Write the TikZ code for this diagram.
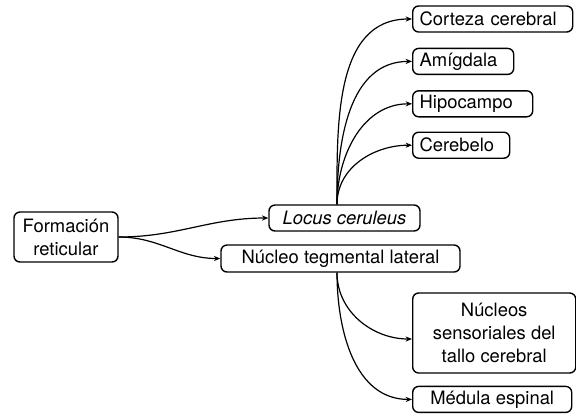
\documentclass[tikz,border=0pt]{standalone}
\usepackage{fontspec}
\setmainfont{TeX Gyre Heros}
\usetikzlibrary{arrows.meta,positioning}

\begin{document}
\begin{tikzpicture}[
    x=0.5pt, y=0.5pt,
    node distance=7.5pt,
    font=\fontsize{9.2}{11.5}\selectfont,
    box/.style={rectangle, draw, rounded corners=3pt, line width=0.7pt,
                minimum height=13pt, inner xsep=3.5pt, inner ysep=1pt},
    lbox/.style={box, align=left, text width=#1},
    cbox/.style={box, align=center, minimum width=#1},
    arrow/.style={-{Stealth[length=3.2pt, width=2.6pt]}, line width=0.6pt}
  ]
  \useasboundingbox (0,0) rectangle (576,-414);

  % --- origen ---
  \node[cbox=52pt, minimum height=25pt] (form) at (66,-237) {Formación\\reticular};

  % --- nucleos del tronco ---
  \node[cbox=75.5pt] (locus) at (344.5,-218) {\itshape Locus ceruleus};
  \node[cbox=119.5pt, minimum height=13.5pt] (teg) at (340.5,-258.5) {Núcleo tegmental lateral};

  % --- proyecciones del locus ceruleus ---
  \node[lbox=73pt, anchor=west] (cort) at (412,-19) {Corteza cerebral};
  \node[lbox=43.5pt, below right=7.5pt and 0pt of cort.south west] (amig) {Amígdala};
  \node[lbox=53pt, below right=7.5pt and 0pt of amig.south west] (hipo) {Hipocampo};
  \node[lbox=41.5pt, below right=7pt and 0pt of hipo.south west] (cereb) {Cerebelo};

  % --- proyecciones del tegmental lateral ---
  \node[cbox=81.5pt, minimum height=40pt, anchor=west] (nucs) at (412,-333)
    {Núcleos\\sensoriales del\\tallo cerebral};
  \node[cbox=79.5pt, below right=6pt and 0pt of nucs.south west] (med) {Médula espinal};

  % --- conexiones ---
  \draw[arrow] (form.east) to[out=0, in=180] (locus.west);
  \draw[arrow] (form.east) to[out=0, in=180] (teg.west);

  \coordinate (lc) at ([xshift=-3.75pt]locus.north);
  \foreach \t in {cort, amig, hipo, cereb}
    \draw[arrow] (lc) to[out=90, in=180] (\t.west);

  \coordinate (tg) at ([xshift=-1.75pt]teg.south);
  \draw[arrow] (tg) to[out=-90, in=180] ([yshift=-3pt]nucs.west);
  \draw[arrow] (tg) to[out=-90, in=180] (med.west);
\end{tikzpicture}
\end{document}
